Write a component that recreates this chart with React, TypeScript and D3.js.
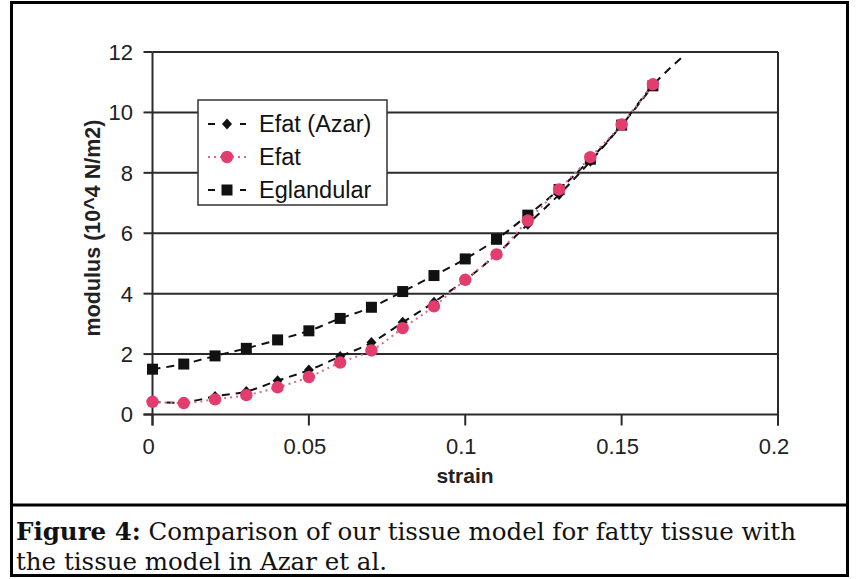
import React from "react";
import * as d3 from "d3";

const strain = [0, 0.01, 0.02, 0.03, 0.04, 0.05, 0.06, 0.07, 0.08, 0.09, 0.1, 0.11, 0.12, 0.13, 0.14, 0.15, 0.16];
const efatAzar = [0.42, 0.4, 0.6, 0.76, 1.12, 1.47, 1.92, 2.38, 3.05, 3.72, 4.45, 5.3, 6.3, 7.28, 8.38, 9.58, 10.9];
const efat = [0.42, 0.38, 0.5, 0.64, 0.9, 1.24, 1.72, 2.12, 2.86, 3.58, 4.46, 5.3, 6.42, 7.45, 8.52, 9.6, 10.93];
const eglandular = [1.5, 1.67, 1.94, 2.19, 2.47, 2.77, 3.18, 3.55, 4.07, 4.6, 5.15, 5.8, 6.6, 7.45, 8.45, 9.58, 10.88];
const azarTrendEnd = { x: 0.169, y: 11.8 };
const xTicks = [0, 0.05, 0.1, 0.15, 0.2];
const yTicks = [0, 2, 4, 6, 8, 10, 12];
const legendLabels = ["Efat (Azar)", "Efat", "Eglandular"];

const PINK = "#e23d6c";
const PINK_LINE = "#d66b86";

export default function App() {
  const x = d3.scaleLinear().domain([0, 0.2]).range([152.5, 778]);
  const y = d3.scaleLinear().domain([0, 12]).range([414.5, 52]);
  const line = d3
    .line<[number, number]>()
    .x((d) => x(d[0]))
    .y((d) => y(d[1]))
    .curve(d3.curveCatmullRom.alpha(0.5));

  const azarPts: [number, number][] = strain.map((s, i) => [s, efatAzar[i]]);
  azarPts.push([azarTrendEnd.x, azarTrendEnd.y]);
  const efatPts: [number, number][] = strain.map((s, i) => [s, efat[i]]);
  const glandPts: [number, number][] = strain.map((s, i) => [s, eglandular[i]]);

  const tickFont = "'Liberation Sans', Arial, sans-serif";
  const x0 = x.range()[0];
  const x1 = x.range()[1];

  const square = (cx: number, cy: number, k: string | number) => (
    <rect key={k} x={cx - 5.5} y={cy - 5.5} width={11} height={11} fill="#111" />
  );
  const diamond = (cx: number, cy: number, k: string | number) => (
    <path key={k} d={`M${cx},${cy - 5.5}L${cx + 5},${cy}L${cx},${cy + 5.5}L${cx - 5},${cy}Z`} fill="#111" />
  );
  const circle = (cx: number, cy: number, k: string | number) => (
    <circle key={k} cx={cx} cy={cy} r={6.2} fill={PINK} />
  );

  const legendY = [124, 157, 190];

  return (
    <svg width={859} height={579} style={{ position: "absolute", left: 0, top: 0 }} xmlns="http://www.w3.org/2000/svg">
      <rect x={0} y={0} width={859} height={579} fill="#fff" />
      {/* frame */}
      <rect x={11.5} y={2.5} width={836} height={573} fill="none" stroke="#000" strokeWidth={3} />
      <line x1={11.5} x2={847.5} y1={505} y2={505} stroke="#000" strokeWidth={3} />

      {/* gridlines */}
      {yTicks.filter((t) => t > 0).map((t) => (
        <line key={t} x1={x0} x2={x1} y1={y(t)} y2={y(t)} stroke="#2a2a2a" strokeWidth={2} />
      ))}
      {/* axes */}
      <line x1={x0 - 9} x2={x1} y1={y(0)} y2={y(0)} stroke="#2a2a2a" strokeWidth={2} />
      <line x1={x0} x2={x0} y1={y(12)} y2={y(0) + 11} stroke="#2a2a2a" strokeWidth={2} />
      <line x1={x1} x2={x1} y1={y(12)} y2={y(0) + 11} stroke="#2a2a2a" strokeWidth={2} />
      {yTicks.map((t) => (
        <g key={t}>
          <line x1={x0 - 9} x2={x0} y1={y(t)} y2={y(t)} stroke="#2a2a2a" strokeWidth={2} />
          <text x={133} y={y(t)} dy="0.36em" textAnchor="end" fontFamily={tickFont} fontSize={22} fill="#222">
            {t}
          </text>
        </g>
      ))}
      {xTicks.map((t) => (
        <g key={t}>
          <line x1={x(t)} x2={x(t)} y1={y(0)} y2={y(0) + 11} stroke="#2a2a2a" strokeWidth={2} />
          <text x={x(t) - 4} y={454} textAnchor="middle" fontFamily={tickFont} fontSize={22} fill="#222">
            {t}
          </text>
        </g>
      ))}
      <text x={465} y={483} textAnchor="middle" fontFamily={tickFont} fontWeight="bold" fontSize={21} fill="#222">
        strain
      </text>
      <text
        transform={`translate(100,228) rotate(-90)`}
        textAnchor="middle"
        fontFamily={tickFont}
        fontWeight="bold"
        fontSize={21.5}
        fill="#222"
      >
        modulus (10^4 N/m2)
      </text>

      {/* series lines */}
      <path d={line(glandPts) || ""} fill="none" stroke="#111" strokeWidth={2} strokeDasharray="8,6" />
      <path d={line(azarPts) || ""} fill="none" stroke="#111" strokeWidth={2} strokeDasharray="8,6" />
      <path d={line(efatPts) || ""} fill="none" stroke={PINK_LINE} strokeWidth={2} strokeDasharray="2,4" />

      {/* markers */}
      {glandPts.map((p, i) => square(x(p[0]), y(p[1]), "g" + i))}
      {strain.map((s, i) => diamond(x(s), y(efatAzar[i]), "a" + i))}
      {efatPts.map((p, i) => circle(x(p[0]), y(p[1]), "e" + i))}

      {/* legend */}
      <rect x={198} y={100} width={189} height={105} fill="#fff" stroke="#333" strokeWidth={1.5} />
      {legendLabels.map((lab, i) => {
        const ly = legendY[i];
        return (
          <g key={lab}>
            <line
              x1={208}
              x2={246}
              y1={ly}
              y2={ly}
              stroke={i === 1 ? PINK_LINE : "#111"}
              strokeWidth={2}
              strokeDasharray={i === 1 ? "2,4" : "7,9"}
            />
            {i === 0 && diamond(227, ly, "ld")}
            {i === 1 && circle(227, ly, "lc")}
            {i === 2 && square(227, ly, "ls")}
            <text x={259} y={ly} dy="0.36em" fontFamily={tickFont} fontSize={23.5} fill="#111">
              {lab}
            </text>
          </g>
        );
      })}

      {/* caption */}
      <text x={16} y={540} fontFamily="'DejaVu Serif', serif" fontSize={24.5} fill="#111">
        <tspan fontWeight="bold">Figure 4:</tspan> Comparison of our tissue model for fatty tissue with
      </text>
      <text x={16} y={570} fontFamily="'DejaVu Serif', serif" fontSize={24.5} fill="#111">
        the tissue model in Azar et al.
      </text>
    </svg>
  );
}
